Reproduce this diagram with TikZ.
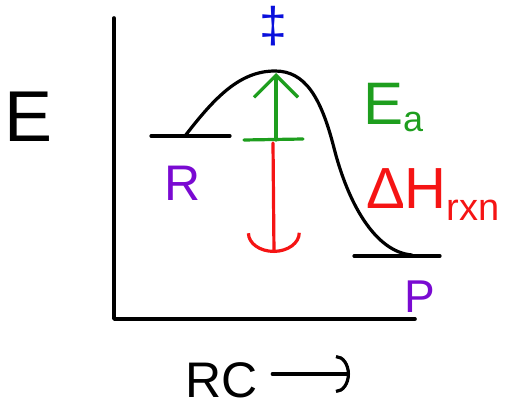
\documentclass[tikz,border=0pt]{standalone}
\usepackage{fontspec}
\setmainfont{Liberation Sans}
\usetikzlibrary{arrows.meta,positioning}
\definecolor{tsblue}{HTML}{0A10DC}
\definecolor{eagreen}{HTML}{1E9E1E}
\definecolor{dhred}{HTML}{F51414}
\definecolor{spurple}{HTML}{7A0AD2}
\tikzset{
  ink/.style={line width=3.2pt,line cap=round,line join=round},
  lbl/.style={inner sep=0pt,anchor=base},
  arrowea/.style={ink,eagreen,-{Straight Barb[length=22pt,width=44pt,line width=3.2pt]}},
  arrowdh/.style={ink,dhred,-{Arc Barb[length=20pt,width=54pt,line width=3.2pt]}},
  arrowrc/.style={ink,-{Arc Barb[length=14pt,width=38pt,line width=3.2pt]}},
}
\newcommand{\fsz}[1]{\fontsize{#1}{#1}\selectfont}

\begin{document}
\begin{tikzpicture}[x=1pt,y=-1pt]
  \useasboundingbox (0,0) rectangle (522,409);
  % axes
  \draw[ink,line width=3.6pt] (114,18) -- (114,319) -- (415,319);
  % energy levels
  \coordinate (rl) at (151,136);
  \coordinate (rr) at (230,136);
  \coordinate (pl) at (354,256);
  \coordinate (pr) at (440,256);
  \draw[ink] (rl) -- (rr);
  \draw[ink] (pl) -- (pr);
  % reaction path
  \draw[ink] (185,136) .. controls (215,97) and (240,71) .. (275,71)
    .. controls (305,71) and (321,97) .. (334,148)
    .. controls (348,203) and (375,252) .. (412,255);
  % activation energy
  \coordinate (eabase) at (276,140);
  \coordinate (ts) at (276,73);
  \draw[ink,eagreen] (244,140) -- (303,139);
  \draw[arrowea] (eabase) -- (ts);
  % enthalpy change
  \coordinate (dhtop) at (273,143);
  \coordinate (dhbot) at (274,253);
  \draw[arrowdh] (dhtop) -- (dhbot);
  % labels
  \node[lbl] (elbl) at (29,142) {\fsz{72}E};
  \node[lbl,tsblue] (tslbl) at (273,43) {\fsz{50}\ddag};
  \node[lbl,spurple] (rlbl) at (183,200) {\fsz{50}R};
  \node[lbl,spurple] (plbl) at (420,312) {\fsz{46}P};
  \node[lbl,anchor=base west,eagreen] (ealbl) at (363,125)
    {\fsz{60}E\raisebox{-6pt}{\fsz{36}a}};
  \node[lbl,anchor=base west,dhred] (dhlbl) at (366,208)
    {\fsz{58}ΔH\raisebox{-12pt}{\fsz{38}rxn}};
  % reaction coordinate
  \node[lbl] (rclbl) at (222,397) {\fsz{50}RC};
  \coordinate (rcend) at (350,374);
  \draw[arrowrc,shorten <=14pt] (rclbl.east |- rcend) -- (rcend);
\end{tikzpicture}
\end{document}
